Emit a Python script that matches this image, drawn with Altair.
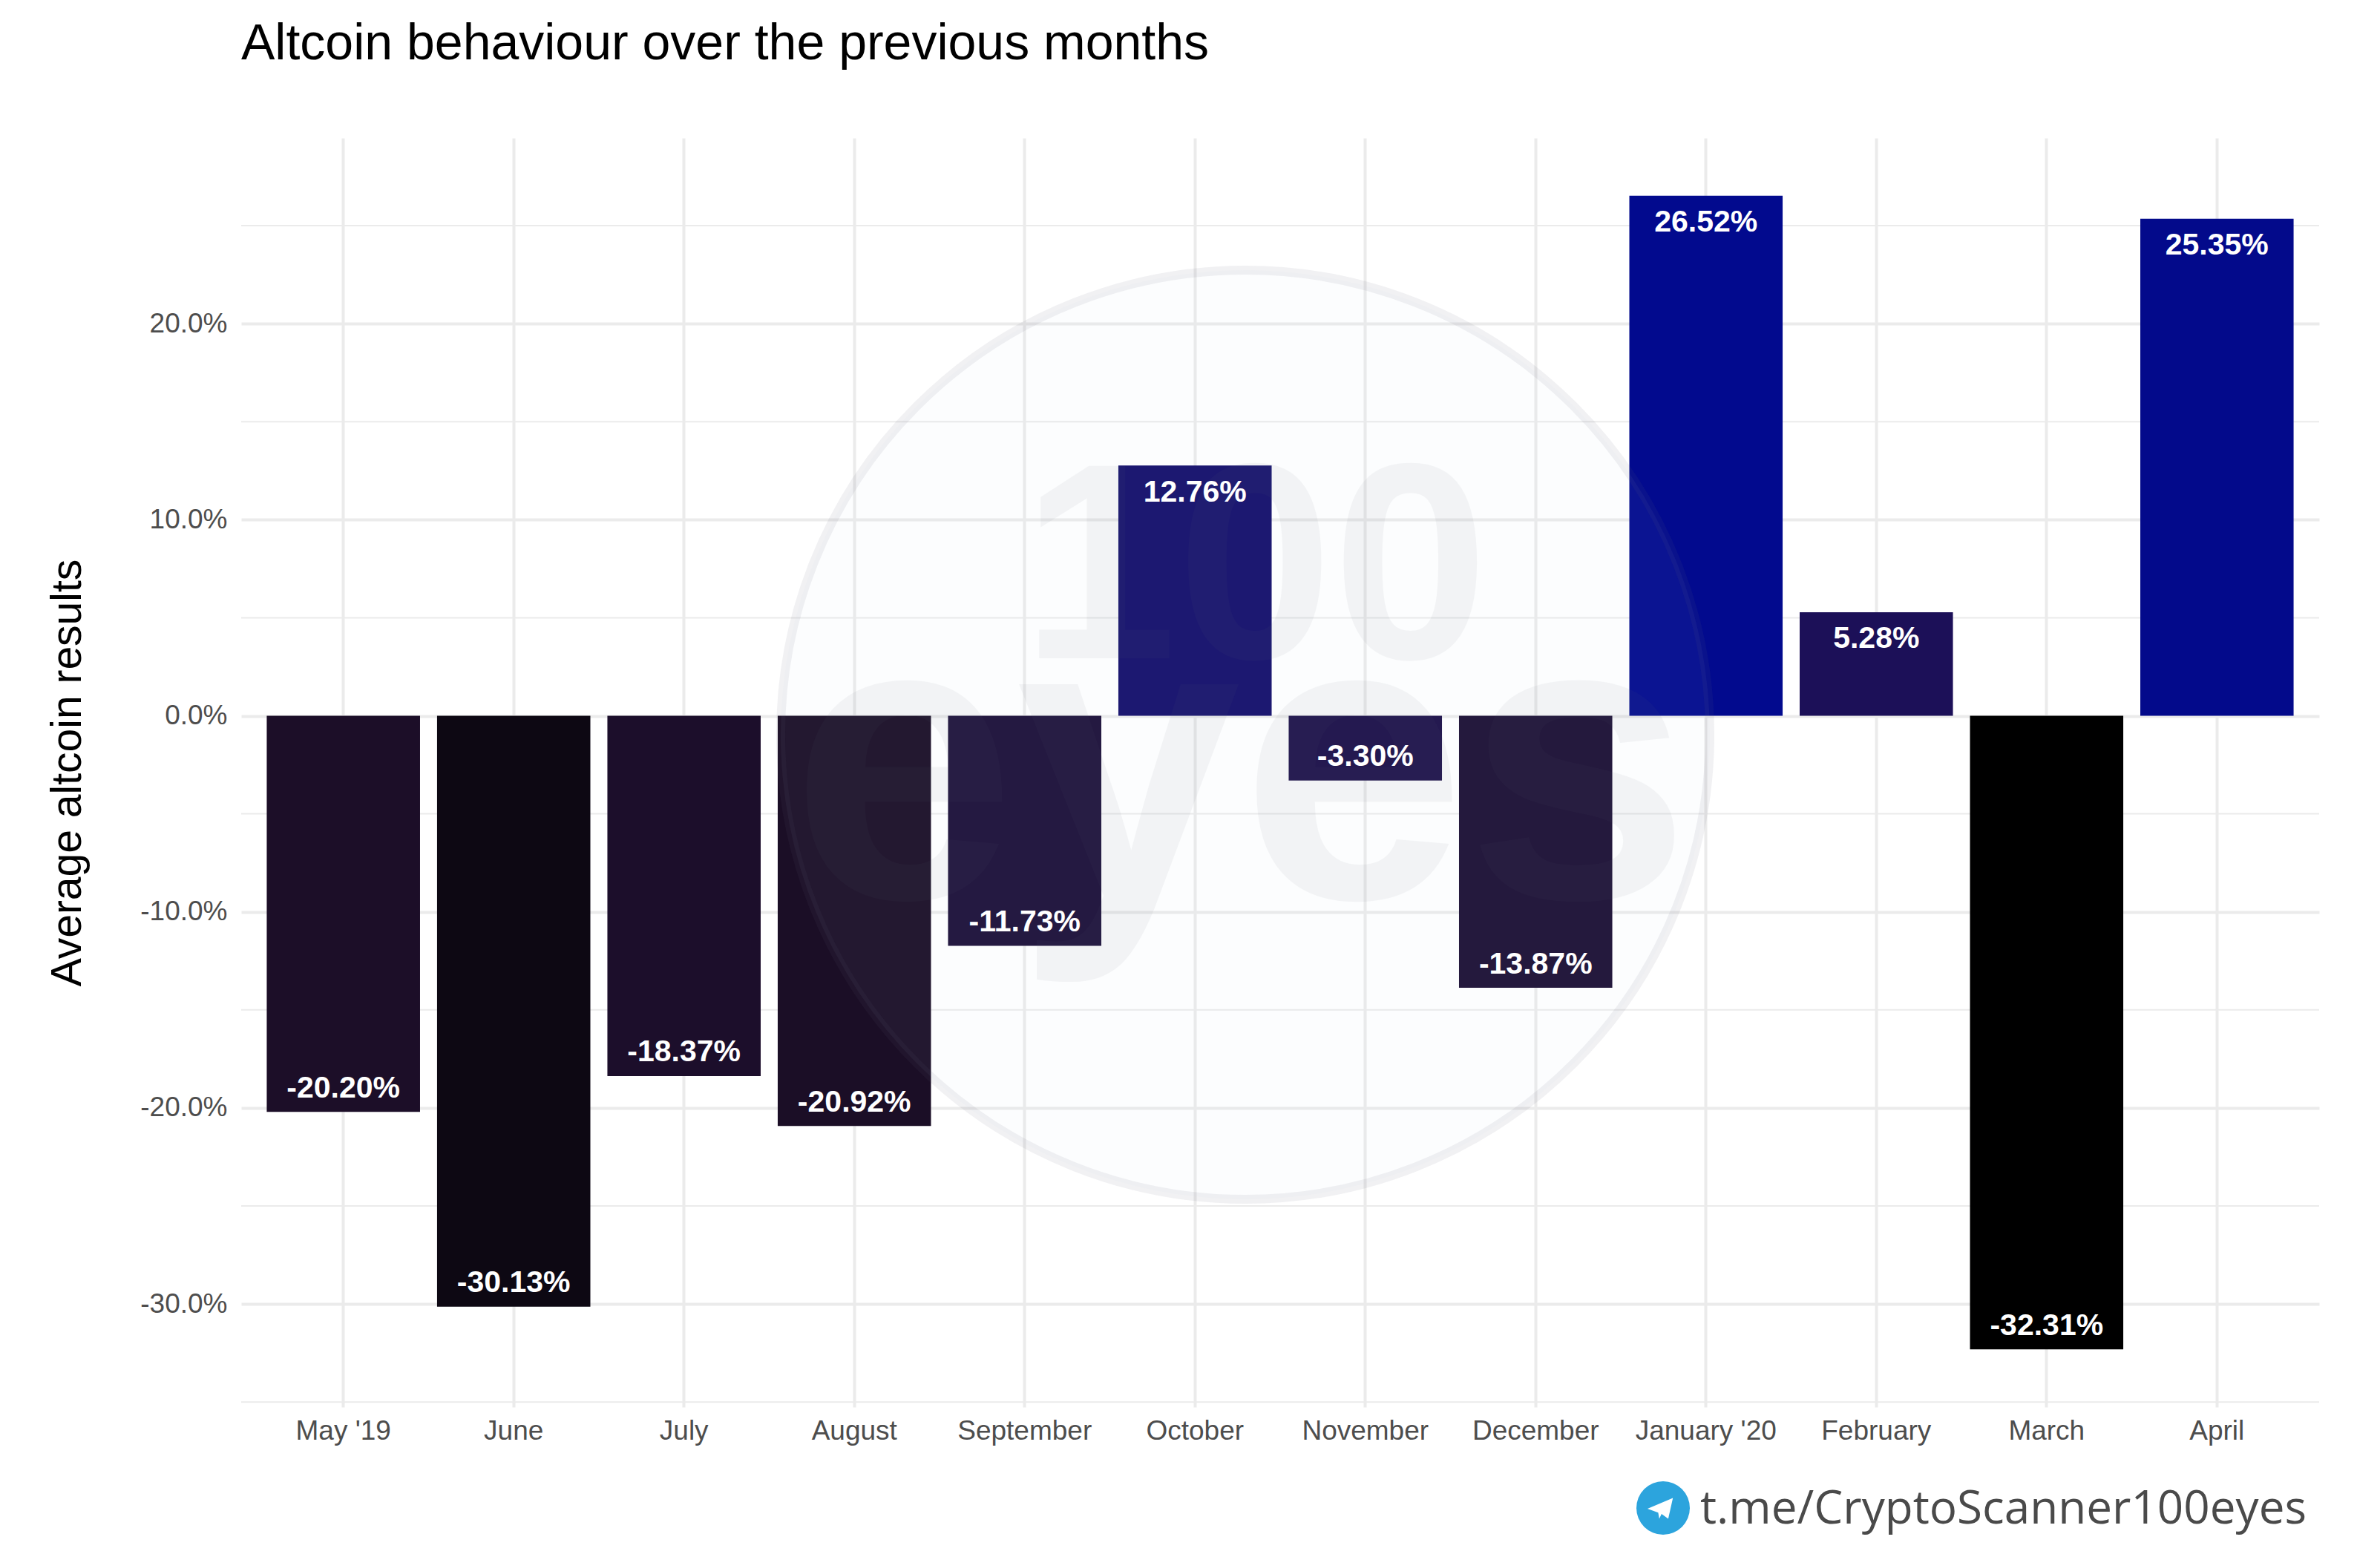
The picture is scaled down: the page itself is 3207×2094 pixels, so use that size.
import altair as alt
import pandas as pd

# ---- data ----
months = ["May '19", "June", "July", "August", "September", "October",
          "November", "December", "January '20", "February", "March", "April"]
values = [-20.20, -30.13, -18.37, -20.92, -11.73, 12.76,
          -3.30, -13.87, 26.52, 5.28, -32.31, 25.35]
y_breaks = [-30, -20, -10, 0, 10, 20]
minor_breaks = [-35, -25, -15, -5, 5, 15, 25]

title_text = "Altcoin behaviour over the previous months"
y_title = "Average altcoin results"
footer_text = "t.me/CryptoScanner100eyes"
watermark_top = "100"
watermark_bottom = "eyes"

df = pd.DataFrame({"month": months, "value": values,
                   "label": [f"{v:.2f}%" for v in values]})
minor_df = pd.DataFrame({"value": minor_breaks})

lo, hi = min(values), max(values)
pad = 0.05 * (hi - lo)
y_domain = [lo - pad, hi + pad]

y_scale = alt.Scale(domain=y_domain, nice=False, zero=False)
x_scale = alt.Scale(paddingInner=0.1, paddingOuter=0.15)

GRID = "#ebebeb"
FONT = "Liberation Sans"

x_enc = alt.X("month:N", sort=months, title=None, scale=x_scale,
              axis=alt.Axis(labelAngle=0, labelFontSize=37, labelColor="#4d4d4d",
                            labelPadding=43, labelBaseline="alphabetic",
                            labelFont=FONT, labelLimit=1000, ticks=False,
                            domain=False, grid=True,
                            gridColor=GRID, gridWidth=4, bandPosition=0.5))

y_axis = alt.Axis(values=y_breaks, title=y_title, titleFontSize=57,
                  titleFontWeight="normal", titleColor="black",
                  titleFont=FONT, titlePadding=68,
                  labelFontSize=37, labelColor="#4d4d4d", labelFont=FONT,
                  labelPadding=19, ticks=False, domain=False,
                  grid=True, gridColor=GRID, gridWidth=4,
                  labelExpr="replace(format(datum.value, '.1f'), '\u2212', '-') + '%'")

color_enc = alt.Color("value:Q", legend=None,
                      scale=alt.Scale(domain=[lo, -30.13, -20.5, 5.28, hi],
                                      range=["#000000", "#0d0813", "#1c0e27",
                                             "#1c1058", "#020a8e"],
                                      interpolate="rgb"))

minor = alt.Chart(minor_df).mark_rule(color=GRID, strokeWidth=2).encode(
    y=alt.Y("value:Q", scale=y_scale, axis=y_axis)
)

bars = alt.Chart(df).mark_bar().encode(
    x=x_enc, y=alt.Y("value:Q", scale=y_scale, axis=y_axis), color=color_enc
)

pos_labels = alt.Chart(df).transform_filter("datum.value >= 0").mark_text(
    color="white", fontWeight="bold", fontSize=41, font=FONT,
    baseline="alphabetic", dy=48.5
).encode(x=alt.X("month:N", sort=months, scale=x_scale),
         y=alt.Y("value:Q", scale=y_scale), text="label:N")

neg_labels = alt.Chart(df).transform_filter("datum.value < 0").mark_text(
    color="white", fontWeight="bold", fontSize=41, font=FONT,
    baseline="alphabetic", dy=-19.5
).encode(x=alt.X("month:N", sort=months, scale=x_scale),
         y=alt.Y("value:Q", scale=y_scale), text="label:N")

# ---- faint watermark logo ----
wm_df = pd.DataFrame({"t": [watermark_top]})
disc = alt.Chart(wm_df).mark_point(
    shape="circle", filled=True, size=1567500, opacity=1,
    fill="#c8d4e4", fillOpacity=0.05,
    stroke="#606878", strokeOpacity=0.09, strokeWidth=12
).encode(x=alt.value(1353), y=alt.value(804))

wm_top = alt.Chart(pd.DataFrame({"t": [watermark_top]})).mark_text(
    fontSize=377, fontWeight="bold", font=FONT, color="#606878", opacity=0.06,
    align="center", baseline="alphabetic"
).encode(text="t:N", x=alt.value(1366), y=alt.value(701))

wm_bottom = alt.Chart(pd.DataFrame({"t": [watermark_bottom]})).mark_text(
    fontSize=545, fontWeight="bold", font=FONT, color="#606878", opacity=0.06,
    align="center", baseline="alphabetic"
).encode(text="t:N", x=alt.value(1347), y=alt.value(1024))

# ---- footer ----
footer = alt.Chart(pd.DataFrame({"t": [footer_text]})).mark_text(
    fontSize=62, font="Open Sans", color="#4a4a4a", align="right",
    baseline="alphabetic"
).encode(text="t:N", x=alt.value(2783), y=alt.value(1867))

icon = alt.Chart(pd.DataFrame({"t": ["icon"]})).mark_point(
    shape="circle", filled=True, size=5184, color="#2ca4dd", opacity=1
).encode(x=alt.value(1916), y=alt.value(1846))

plane_path = "M -1 0.05 L 0.9 -0.75 L 0.55 0.8 L 0.05 0.45 L -0.12 0.8 L -0.2 0.35 Z"
plane = alt.Chart(pd.DataFrame({"t": ["plane"]})).mark_point(
    shape=plane_path, filled=True, size=1300, color="white", opacity=1
).encode(x=alt.value(1913), y=alt.value(1846))

chart = alt.layer(
    minor, bars, disc, wm_top, wm_bottom, pos_labels, neg_labels,
    footer, icon, plane
).properties(
    width=2800, height=1710,
    autosize=alt.AutoSizeParams(type="none"),
    padding={"left": 317, "top": 178, "right": 74, "bottom": 190},
    title=alt.TitleParams(title_text, anchor="start", fontSize=68, font=FONT,
                          fontWeight="normal", color="black",
                          baseline="alphabetic", offset=38, frame="group"),
    background="white",
).configure(font=FONT, view=alt.ViewConfig(stroke=None))

chart.save("out.html", embed_options={"renderer": "svg", "actions": False})
